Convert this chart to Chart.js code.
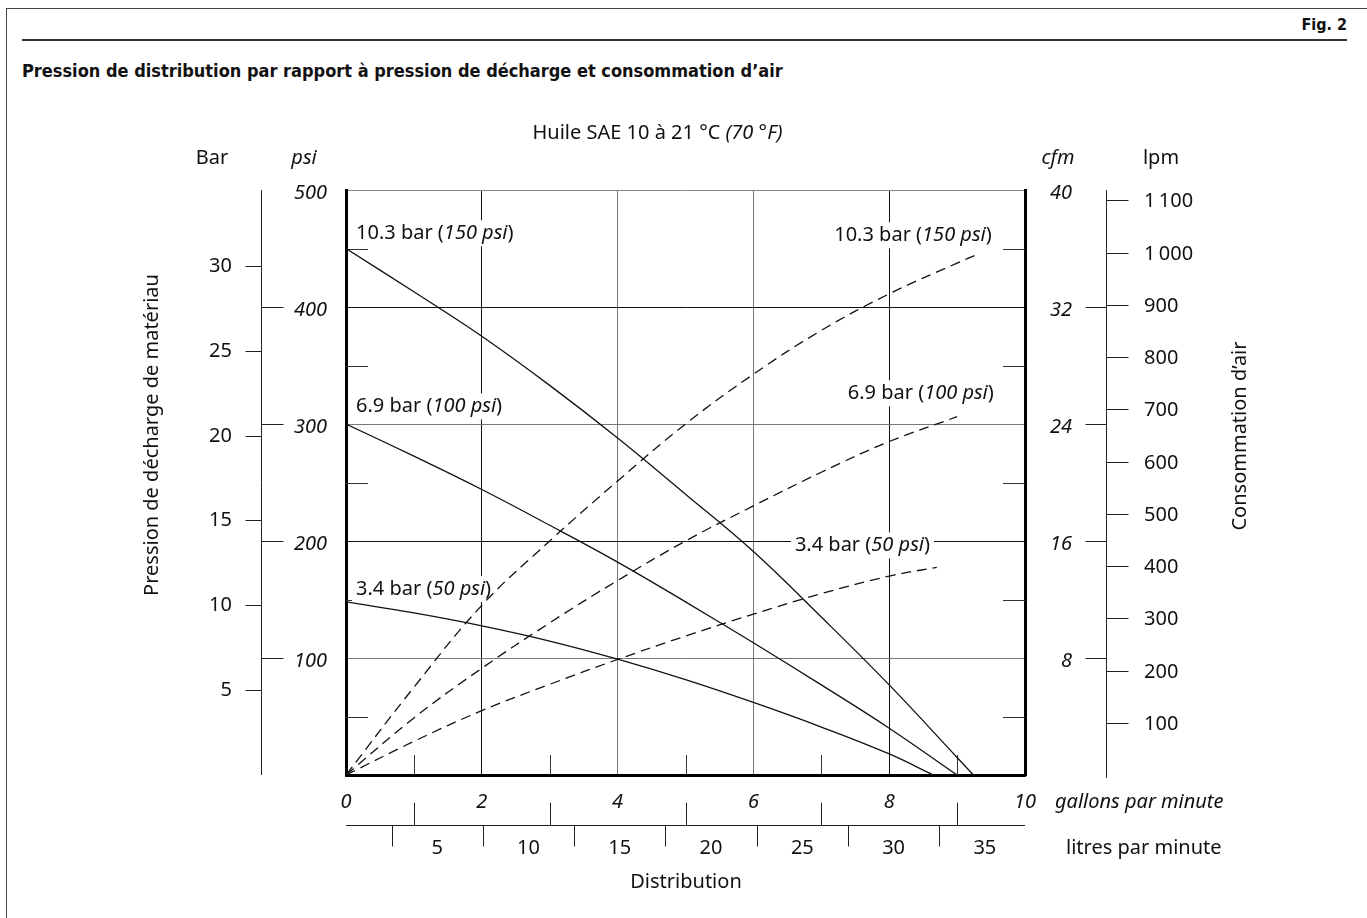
<!DOCTYPE html>
<html>
<head>
<meta charset="utf-8">
<script src="https://cdn.jsdelivr.net/npm/chart.js@4.4.1/dist/chart.umd.min.js"></script>
<style>
  body { margin: 0; background: #fff; }
  #frame { position: absolute; left: 6px; top: 8px; width: 1400px; height: 960px;
           border-left: 1px solid #444; border-top: 1px solid #444; }
  #rule { position: absolute; left: 22px; top: 39px; width: 1325px; height: 2px; background: #333; }
  .hd { position: absolute; font-family: "DejaVu Sans Condensed", "DejaVu Sans", sans-serif;
        font-weight: bold; color: #111; line-height: 20px; white-space: nowrap; }
  #fig { right: 20px; top: 15px; font-size: 16px; }
  #title { left: 22px; top: 61px; font-size: 18px; }
  #c { position: absolute; left: 0; top: 0; }
</style>
</head>
<body>
<div id="frame"></div>
<div id="rule"></div>
<div class="hd" id="fig">Fig. 2</div>
<div class="hd" id="title">Pression de distribution par rapport à pression de décharge et consommation d’air</div>
<canvas id="c" width="1367" height="918"></canvas>
<script>
// tick labels
const gpmTicks = [0, 2, 4, 6, 8, 10];
const gpmMinor = [1, 3, 5, 7, 9];
const psiTicks = [100, 200, 300, 400, 500];
const psiMinor = [50, 150, 250, 350, 450];
const barTicks = [5, 10, 15, 20, 25, 30];
const cfmTicks = [8, 16, 24, 32, 40];
const lpmTicks = [100, 200, 300, 400, 500, 600, 700, 800, 900, 1000, 1100];
const litreTicks = [5, 10, 15, 20, 25, 30, 35];
const litreMarks = [2.5, 7.5, 12.5, 17.5, 22.5, 27.5, 32.5];

// material discharge pressure (psi) against delivery (gpm)
const mat150Gpm = [0, 1, 2, 3, 4, 5, 6, 7, 8, 9, 9.24];
const mat150Psi = [450, 413, 375, 333, 288, 240, 191, 135, 77, 15, 0];
const mat100Gpm = [0, 1, 2, 3, 4, 5, 6, 7, 8, 9];
const mat100Psi = [300, 272.5, 244, 213.5, 182, 148, 113, 77, 40, 0];
const mat50Gpm = [0, 1, 2, 3, 4, 5, 6, 7, 8, 8.65];
const mat50Psi = [148, 138.5, 127.5, 114.5, 99, 81.5, 62, 41, 18, 0];

// air consumption (cfm) against delivery (gpm)
const air150Gpm = [0, 1, 2, 3, 4, 5, 6, 7, 8, 9, 9.3];
const air150Cfm = [0, 6.0, 11.6, 16.0, 20.1, 24.0, 27.4, 30.4, 32.9, 35.0, 35.6];
const air100Gpm = [0, 1, 2, 3, 4, 5, 6, 7, 8, 9];
const air100Cfm = [0, 3.9, 7.3, 10.4, 13.3, 16.0, 18.4, 20.7, 22.8, 24.5];
const air50Gpm = [0, 1, 2, 3, 4, 5, 6, 7, 8, 8.7];
const air50Cfm = [0, 2.3, 4.4, 6.2, 7.9, 9.5, 11.0, 12.4, 13.6, 14.2];

// curve captions
const barNames = ['10.3 bar', '6.9 bar', '3.4 bar'];
const psiNames = ['150 psi', '100 psi', '50 psi'];
const leftLabelPsi = [463, 315, 159];
const rightLabelGpm = [9.51, 9.54, 8.6];
const rightLabelCfm = [36.9, 26.1, 15.7];

const FONT = '"Noto Sans", "Open Sans", sans-serif';
const font = (italic, size) => (italic ? 'italic ' : '') + (size || 20) + 'px ' + FONT;

const pts = (xs, ys) => xs.map((x, i) => ({ x: x, y: ys[i] }));

function richText(ctx, parts, x, y, align) {
  const widths = parts.map(p => { ctx.font = font(p[1]); return ctx.measureText(p[0]).width; });
  const total = widths.reduce((a, b) => a + b, 0);
  let cx = align === 'right' ? x - total : align === 'center' ? x - total / 2 : x;
  const left = cx;
  ctx.textAlign = 'left';
  ctx.textBaseline = 'middle';
  parts.forEach((p, i) => { ctx.font = font(p[1]); ctx.fillText(p[0], cx, y); cx += widths[i]; });
  return { left: left, width: total };
}

function caption(ctx, i, x, y, align) {
  const parts = [[barNames[i] + ' (', false], [psiNames[i], true], [')', false]];
  const w = parts.reduce((a, p) => { ctx.font = font(p[1]); return a + ctx.measureText(p[0]).width; }, 0);
  const left = align === 'right' ? x - w : x;
  ctx.fillStyle = '#fff';
  ctx.fillRect(left - 4, y - 13, w + 8, 26);
  ctx.fillStyle = '#111';
  richText(ctx, parts, x, y, align);
}

function line(ctx, x1, y1, x2, y2) {
  ctx.beginPath();
  ctx.moveTo(x1, y1);
  ctx.lineTo(x2, y2);
  ctx.stroke();
}

const axesPlugin = {
  id: 'axes',
  beforeDatasetsDraw(chart) {
    const ctx = chart.ctx;
    const s = chart.scales;
    const a = chart.chartArea;
    ctx.save();
    // short ticks inside the plot
    ctx.strokeStyle = '#333';
    ctx.lineWidth = 1;
    psiMinor.forEach(v => {
      const y = Math.round(s.y.getPixelForValue(v)) + 0.5;
      line(ctx, a.left, y, a.left + 22, y);
      line(ctx, a.right - 22, y, a.right, y);
    });
    gpmMinor.forEach(v => {
      const x = Math.round(s.x.getPixelForValue(v)) + 0.5;
      line(ctx, x, a.bottom - 20, x, a.bottom);
    });
    // curve captions
    for (let i = 0; i < 3; i++) {
      caption(ctx, i, a.left + 10, s.y.getPixelForValue(leftLabelPsi[i]), 'left');
      caption(ctx, i, s.x.getPixelForValue(rightLabelGpm[i]), s.cfm.getPixelForValue(rightLabelCfm[i]), 'right');
    }
    ctx.restore();
  },
  afterDraw(chart) {
    const ctx = chart.ctx;
    const s = chart.scales;
    const a = chart.chartArea;
    ctx.save();
    ctx.fillStyle = '#111';
    ctx.strokeStyle = '#222';
    ctx.lineWidth = 1;

    // heading
    richText(ctx, [['Huile SAE 10 à 21 °C ', false], ['(70 °F)', true]], (a.left + a.right) / 2 - 28, 133, 'center');
    richText(ctx, [['Bar', false]], 212, 158, 'center');
    richText(ctx, [['psi', true]], 304, 158, 'center');
    richText(ctx, [['cfm', true]], 1058, 158, 'center');
    richText(ctx, [['lpm', false]], 1161, 158, 'center');

    // Bar axis
    const barX = 261.5;
    line(ctx, barX, a.top, barX, a.bottom);
    barTicks.forEach(v => {
      const y = Math.round(s.bar.getPixelForValue(v)) + 0.5;
      line(ctx, barX - 16, y, barX, y);
      richText(ctx, [[String(v), false]], 232, y, 'right');
    });
    // psi labels
    psiTicks.forEach(v => {
      const y = Math.round(s.y.getPixelForValue(v)) + 0.5;
      if (v < 500) line(ctx, barX, y, barX + 22, y);
      richText(ctx, [[String(v), true]], 327, y + 3, 'right');
    });

    // cfm labels and lpm axis
    const lpmX = 1106.5;
    cfmTicks.forEach(v => {
      const y = Math.round(s.cfm.getPixelForValue(v)) + 0.5;
      if (v < 40) line(ctx, lpmX - 21, y, lpmX, y);
      richText(ctx, [[String(v), true]], 1072, y + 3, 'right');
    });
    line(ctx, lpmX, a.top, lpmX, a.bottom + 3);
    lpmTicks.forEach(v => {
      const y = Math.round(s.lpm.getPixelForValue(v)) + 0.5;
      line(ctx, lpmX, y, lpmX + 22, y);
      const txt = v >= 1000 ? Math.floor(v / 1000) + '\u2009' + String(v % 1000).padStart(3, '0') : String(v);
      richText(ctx, [[txt, false]], 1144, y + 1, 'left');
    });

    // axis titles
    ctx.save();
    ctx.translate(152, 435);
    ctx.rotate(-Math.PI / 2);
    richText(ctx, [['Pression de décharge de matériau', false]], 0, 0, 'center');
    ctx.restore();
    ctx.save();
    ctx.translate(1240, 436);
    ctx.rotate(-Math.PI / 2);
    richText(ctx, [['Consommation d\u2019air', false]], 0, 0, 'center');
    ctx.restore();

    // gpm labels
    gpmTicks.forEach(v => {
      richText(ctx, [[String(v), true]], s.x.getPixelForValue(v), 802, 'center');
    });
    richText(ctx, [['gallons par minute', true]], 1055, 802, 'left');

    // litres axis
    const lY = 825.5;
    line(ctx, a.left, lY, a.right, lY);
    gpmMinor.forEach(v => {
      const x = Math.round(s.x.getPixelForValue(v)) + 0.5;
      line(ctx, x, lY - 23, x, lY);
    });
    litreMarks.forEach(v => {
      const x = Math.round(s.litres.getPixelForValue(v)) + 0.5;
      line(ctx, x, lY, x, lY + 21);
    });
    litreTicks.forEach(v => {
      richText(ctx, [[String(v), false]], s.litres.getPixelForValue(v), 848, 'center');
    });
    richText(ctx, [['litres par minute', false]], 1066, 848, 'left');
    richText(ctx, [['Distribution', false]], 686, 882, 'center');
    ctx.restore();
  }
};

const gridY = { 0: 'rgba(0,0,0,0)', 100: '#777', 200: '#111', 300: '#777', 400: '#111', 500: '#888' };
const gridX = { 0: 'rgba(0,0,0,0)', 2: '#111', 4: '#777', 6: '#777', 8: '#111', 10: 'rgba(0,0,0,0)' };

const solid = (data) => ({ data: data, borderColor: '#111', borderWidth: 1.3, pointRadius: 0,
  showLine: true, tension: 0.4, yAxisID: 'y' });
const dashed = (data) => ({ data: data, borderColor: '#111', borderWidth: 1.3, borderDash: [10, 6],
  pointRadius: 0, showLine: true, tension: 0.4, yAxisID: 'cfm' });

new Chart(document.getElementById('c'), {
  type: 'scatter',
  data: {
    datasets: [
      solid(pts(mat150Gpm, mat150Psi)),
      solid(pts(mat100Gpm, mat100Psi)),
      solid(pts(mat50Gpm, mat50Psi)),
      dashed(pts(air150Gpm, air150Cfm)),
      dashed(pts(air100Gpm, air100Cfm)),
      dashed(pts(air50Gpm, air50Cfm))
    ]
  },
  options: {
    responsive: false,
    animation: false,
    devicePixelRatio: 1,
    layout: { padding: { left: 346, top: 190, right: 342, bottom: 143 } },
    plugins: { legend: { display: false }, tooltip: { enabled: false } },
    scales: {
      x: { type: 'linear', position: 'bottom', min: 0, max: 10,
        ticks: { display: false, stepSize: 2 },
        grid: { drawTicks: false, lineWidth: 1, color: c => gridX[c.tick.value] || '#777' },
        border: { color: '#000', width: 3 } },
      y: { type: 'linear', position: 'left', min: 0, max: 500,
        ticks: { display: false, stepSize: 100 },
        grid: { drawTicks: false, lineWidth: 1, color: c => gridY[c.tick.value] || '#777' },
        border: { color: '#000', width: 3 } },
      cfm: { type: 'linear', position: 'right', min: 0, max: 40,
        ticks: { display: false },
        grid: { display: false, drawTicks: false },
        border: { color: '#000', width: 3 } },
      bar: { type: 'linear', position: 'left', display: false, min: 0, max: 500 / 14.5038 },
      lpm: { type: 'linear', position: 'right', display: false, min: 0, max: 1120 },
      litres: { type: 'linear', axis: 'x', position: 'bottom', display: false, min: 0, max: 37.2 }
    }
  },
  plugins: [axesPlugin]
});
</script>
</body>
</html>
